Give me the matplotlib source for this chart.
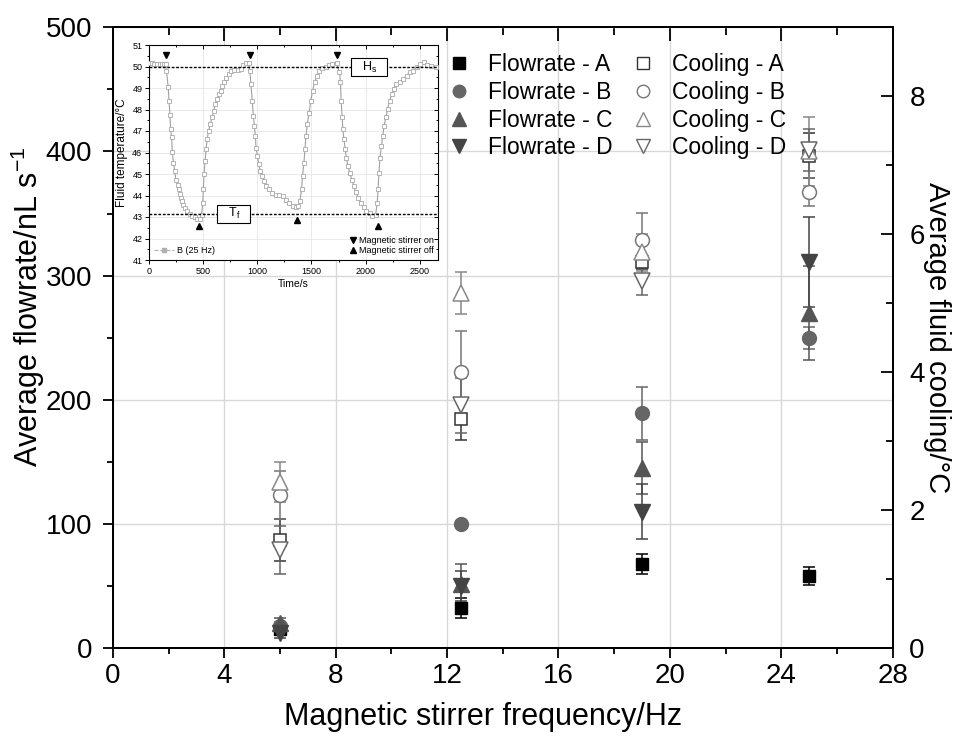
import matplotlib
matplotlib.use("Agg")
import matplotlib.pyplot as plt
from matplotlib.lines import Line2D
from matplotlib.ticker import MultipleLocator

plt.rcParams['font.family'] = ['Liberation Sans', 'DejaVu Sans']

# ---------------- data ----------------
freq = [6, 12.5, 19, 25]

flow_A = [15, 32, 68, 58]
flow_A_err = [3, 8, 8, 7]
flow_B = [18, 100, 189, 250]
flow_B_err = [3, 2, 21, 9]
flow_C = [20, 52, 145, 270]
flow_C_err = [4, 16, 21, 38]
flow_D = [12, 50, 110, 311]
flow_D_err = [4, 12, 22, 36]

cool_A = [1.57, 3.32, 5.60, 7.14]
cool_A_err = [0.30, 0.30, 0.10, 0.33]
cool_B = [2.22, 4.00, 5.91, 6.61]
cool_B_err = [0.35, 0.60, 0.40, 0.20]
cool_C = [2.41, 5.15, 5.74, 7.20]
cool_C_err = [0.29, 0.30, 0.27, 0.50]
cool_D = [1.42, 3.52, 5.32, 7.22]
cool_D_err = [0.35, 0.40, 0.20, 0.30]

# inset: fluid temperature vs time, B (25 Hz)
time_s = [0, 22, 45, 70, 96, 118, 140, 152, 159, 175, 182, 191, 197, 207, 213, 223, 236, 245,
          261, 271, 283, 293, 303, 315, 331, 350, 373, 395, 420, 443, 468, 484, 494, 500,
          506, 516, 525, 535, 548, 564, 580, 596, 611, 627, 643, 659, 675, 694, 713, 733,
          755, 787, 819, 850, 866, 892, 920, 930, 940, 952, 962, 971, 981, 987, 1000, 1013,
          1026, 1041, 1057, 1083, 1105, 1137, 1169, 1201, 1233, 1264, 1296, 1328, 1360,
          1376, 1392, 1408, 1417, 1430, 1440, 1449, 1462, 1478, 1494, 1510, 1529, 1551,
          1573, 1599, 1631, 1663, 1694, 1733, 1758, 1768, 1774, 1784, 1790, 1800, 1812,
          1822, 1838, 1854, 1873, 1892, 1911, 1933, 1956, 1981, 2006, 2038, 2061, 2093,
          2108, 2115, 2124, 2134, 2147, 2159, 2172, 2188, 2204, 2223, 2242, 2261, 2284,
          2315, 2347, 2379, 2411, 2443, 2475, 2507, 2538, 2570, 2602, 2650]
temp_C = [50.15, 50.18, 50.12, 50.12, 50.10, 50.10, 50.10, 50.10, 49.80, 49.03, 48.40, 47.74,
          47.08, 46.70, 46.02, 45.52, 45.13, 44.74, 44.51, 44.28, 44.07, 43.89, 43.73, 43.57,
          43.42, 43.26, 43.14, 43.06, 43.00, 42.93, 42.93, 43.10, 43.65, 44.28, 44.98, 45.60,
          46.15, 46.62, 47.00, 47.32, 47.63, 47.94, 48.25, 48.49, 48.72, 48.88, 49.08, 49.27,
          49.46, 49.63, 49.78, 49.86, 49.86, 49.89, 50.05, 50.16, 50.16, 49.80, 49.19, 48.41,
          47.71, 47.24, 46.77, 46.23, 45.84, 45.45, 45.13, 44.90, 44.67, 44.46, 44.31, 44.12,
          44.04, 44.03, 43.96, 43.81, 43.65, 43.50, 43.45, 43.50, 43.73, 44.28, 44.90, 45.52,
          46.15, 46.77, 47.32, 47.86, 48.41, 48.88, 49.27, 49.58, 49.81, 49.92, 49.97, 50.05,
          50.13, 50.16, 49.74, 49.27, 48.41, 47.63, 47.08, 46.62, 46.15, 45.76, 45.37, 45.06,
          44.74, 44.43, 44.15, 43.89, 43.65, 43.45, 43.29, 43.18, 43.03, 43.10, 43.65, 44.28,
          45.06, 45.76, 46.30, 46.77, 47.24, 47.63, 48.02, 48.41, 48.72, 48.96, 49.19, 49.27,
          49.42, 49.58, 49.74, 49.81, 49.97, 50.13, 50.20, 50.08, 50.02, 49.97]
stirrer_on_t = [159, 930, 1736]
stirrer_on_T = [50.52, 50.52, 50.52]
stirrer_off_t = [459, 1366, 2115]
stirrer_off_T = [42.56, 42.87, 42.59]
H_s = 49.96
T_f = 43.15

# ---------------- figure ----------------
fig = plt.figure(figsize=(9.65, 7.39), dpi=100)
ax = fig.add_axes([0.117, 0.123, 0.808, 0.840])
ax2 = ax.twinx()

ax.set_xlim(0, 28)
ax.set_ylim(0, 500)
ax2.set_ylim(0, 9)

ax.xaxis.set_major_locator(MultipleLocator(4))
ax.xaxis.set_minor_locator(MultipleLocator(2))
ax.yaxis.set_major_locator(MultipleLocator(100))
ax.yaxis.set_minor_locator(MultipleLocator(50))
ax2.yaxis.set_major_locator(MultipleLocator(2))
ax2.yaxis.set_minor_locator(MultipleLocator(1))

ax.grid(True, which='major', color='#d8d8d8', lw=1.0)
ax.set_axisbelow(True)

ax.tick_params(axis='both', which='major', labelsize=20, length=7, width=1.3,
               direction='out', pad=4)
ax.tick_params(axis='y', which='major', pad=8)
ax.tick_params(axis='both', which='minor', length=4, width=1.3, direction='out')
ax.tick_params(axis='x', top=True, which='both')
ax2.tick_params(axis='y', which='major', labelsize=20, length=9, width=1.3,
                direction='in', pad=12)
ax2.tick_params(axis='y', which='minor', length=5, width=1.3, direction='in')
for s in ax.spines.values():
    s.set_linewidth(1.4)
for s in ax2.spines.values():
    s.set_linewidth(1.4)
# top ticks inward
for t in ax.xaxis.get_major_ticks():
    t.tick2line.set_marker(3)
    t.tick2line.set_markersize(10)
for t in ax.xaxis.get_minor_ticks():
    t.tick2line.set_marker(3)
    t.tick2line.set_markersize(6)

ax.set_xlabel('Magnetic stirrer frequency/Hz', fontsize=22)
ax.xaxis.set_label_coords(0.475, -0.087)
ax.set_ylabel('Average flowrate/nL s$^{\\mathregular{-1}}$', fontsize=22)
ax.yaxis.set_label_coords(-0.0846, 0.55)
ax2.set_ylabel('Average fluid cooling/°C', fontsize=21, rotation=270, labelpad=19)

ms = 9
eb = dict(capsize=4.5, elinewidth=1.1, capthick=1.1, ls='none')

ax2.errorbar(freq, cool_A, yerr=cool_A_err, marker='s', ms=ms, mfc='white', mec='#333333',
             color='#333333', mew=1.1, **eb, zorder=3)
ax2.errorbar(freq, cool_B, yerr=cool_B_err, marker='o', ms=ms + 1, mfc='white', mec='#777777',
             color='#777777', mew=1.1, **eb, zorder=3)
ax2.errorbar(freq, cool_C, yerr=cool_C_err, marker='^', ms=ms + 2, mfc='white', mec='#888888',
             color='#888888', mew=1.1, **eb, zorder=3)
ax2.errorbar(freq, cool_D, yerr=cool_D_err, marker='v', ms=ms + 2, mfc='white', mec='#666666',
             color='#666666', mew=1.1, **eb, zorder=3)

ax2.errorbar(freq, flow_A, yerr=flow_A_err, marker='s', ms=ms, color='black', mec='black',
             **eb, zorder=4, transform=ax.transData)
ax2.errorbar(freq, flow_B, yerr=flow_B_err, marker='o', ms=ms + 1, color='#666666',
             **eb, zorder=4, transform=ax.transData)
ax2.errorbar(freq, flow_C, yerr=flow_C_err, marker='^', ms=ms + 2, color='#555555',
             **eb, zorder=4, transform=ax.transData)
ax2.errorbar(freq, flow_D, yerr=flow_D_err, marker='v', ms=ms + 2, color='#444444',
             **eb, zorder=4, transform=ax.transData)

handles = [
    Line2D([], [], ls='none', marker='s', ms=8, color='black'),
    Line2D([], [], ls='none', marker='o', ms=9, color='#666666'),
    Line2D([], [], ls='none', marker='^', ms=10, color='#555555'),
    Line2D([], [], ls='none', marker='v', ms=10, color='#444444'),
    Line2D([], [], ls='none', marker='s', ms=8, mfc='white', mec='#333333'),
    Line2D([], [], ls='none', marker='o', ms=9, mfc='white', mec='#777777'),
    Line2D([], [], ls='none', marker='^', ms=10, mfc='white', mec='#888888'),
    Line2D([], [], ls='none', marker='v', ms=10, mfc='white', mec='#666666'),
]
labels = ['Flowrate - A', 'Flowrate - B', 'Flowrate - C', 'Flowrate - D',
          'Cooling - A', 'Cooling - B', 'Cooling - C', 'Cooling - D']
leg = ax2.legend(handles, labels, ncol=2, frameon=False, fontsize=16.5,
                 loc='upper left', bbox_to_anchor=(436 / 965, 1 - 42 / 739),
                 bbox_transform=fig.transFigure, handlelength=1.0, handletextpad=0.75,
                 columnspacing=0.85, labelspacing=0.2, borderpad=0)

# ---------------- inset ----------------
ins = fig.add_axes([149.3 / 965, 1 - 260 / 739, (438 - 149.3) / 965, (260 - 45) / 739])
ins.set_zorder(10)
ins.set_facecolor('white')
ins.set_xlim(0, 2670)
ins.set_ylim(41, 51)
ins.xaxis.set_major_locator(MultipleLocator(500))
ins.xaxis.set_minor_locator(MultipleLocator(250))
ins.yaxis.set_major_locator(MultipleLocator(1))
ins.yaxis.set_minor_locator(MultipleLocator(0.5))
ins.grid(True, which='major', color='#e6e6e6', lw=0.6)
ins.set_axisbelow(True)
ins.tick_params(which='major', labelsize=6.5, length=3, width=0.7, direction='out', pad=2)
ins.tick_params(which='minor', length=1.5, width=0.7, direction='out')
ins.tick_params(which='both', top=True, right=True)
for t in ins.xaxis.get_major_ticks() + ins.xaxis.get_minor_ticks():
    t.tick2line.set_marker(3)
for t in ins.yaxis.get_major_ticks() + ins.yaxis.get_minor_ticks():
    t.tick2line.set_marker(0)
for s in ins.spines.values():
    s.set_linewidth(0.8)
ins.set_xlabel('Time/s', fontsize=7.5, labelpad=2)
ins.set_ylabel('Fluid temperature/°C', fontsize=8.5, labelpad=3)

ins.plot(time_s, temp_C, color='#a0a0a0', lw=0.8, marker='s', ms=2.6, mfc='white',
         mec='#a8a8a8', mew=0.6, zorder=3)
ins.axhline(H_s, color='black', ls=(0, (2, 1.2)), lw=1.0, zorder=4)
ins.axhline(T_f, color='black', ls=(0, (2, 1.2)), lw=1.0, zorder=4)
ins.plot(stirrer_on_t, stirrer_on_T, ls='none', marker='v', ms=5, color='black', zorder=5)
ins.plot(stirrer_off_t, stirrer_off_T, ls='none', marker='^', ms=5, color='black', zorder=5)

box = dict(boxstyle='square,pad=0.12', fc='white', ec='black', lw=0.8)
ins.text(2030, H_s, '   H$_\\mathregular{s}$   ', fontsize=9, ha='center', va='center',
         bbox=box, zorder=6)
ins.text(776, T_f, '   T$_\\mathregular{f}$   ', fontsize=9, ha='center', va='center',
         bbox=box, zorder=6)

l1 = ins.legend([Line2D([], [], color='#b0b0b0', ls='--', lw=0.8, marker='s', ms=2.5,
                        mfc='#b0b0b0', mec='#b0b0b0')], ['B (25 Hz)'],
                loc='lower left', frameon=False, fontsize=6.5, handlelength=2.2,
                handletextpad=0.4, borderpad=0.3, borderaxespad=0.2)
ins.add_artist(l1)
ins.legend([Line2D([], [], ls='none', marker='v', ms=5, color='black'),
            Line2D([], [], ls='none', marker='^', ms=5, color='black')],
           ['Magnetic stirrer on', 'Magnetic stirrer off'],
           loc='lower right', frameon=False, fontsize=6.5, handlelength=0.8,
           handletextpad=0.2, labelspacing=0.2, borderpad=0.3, borderaxespad=0.2)

fig.savefig('out.png', dpi=100)
